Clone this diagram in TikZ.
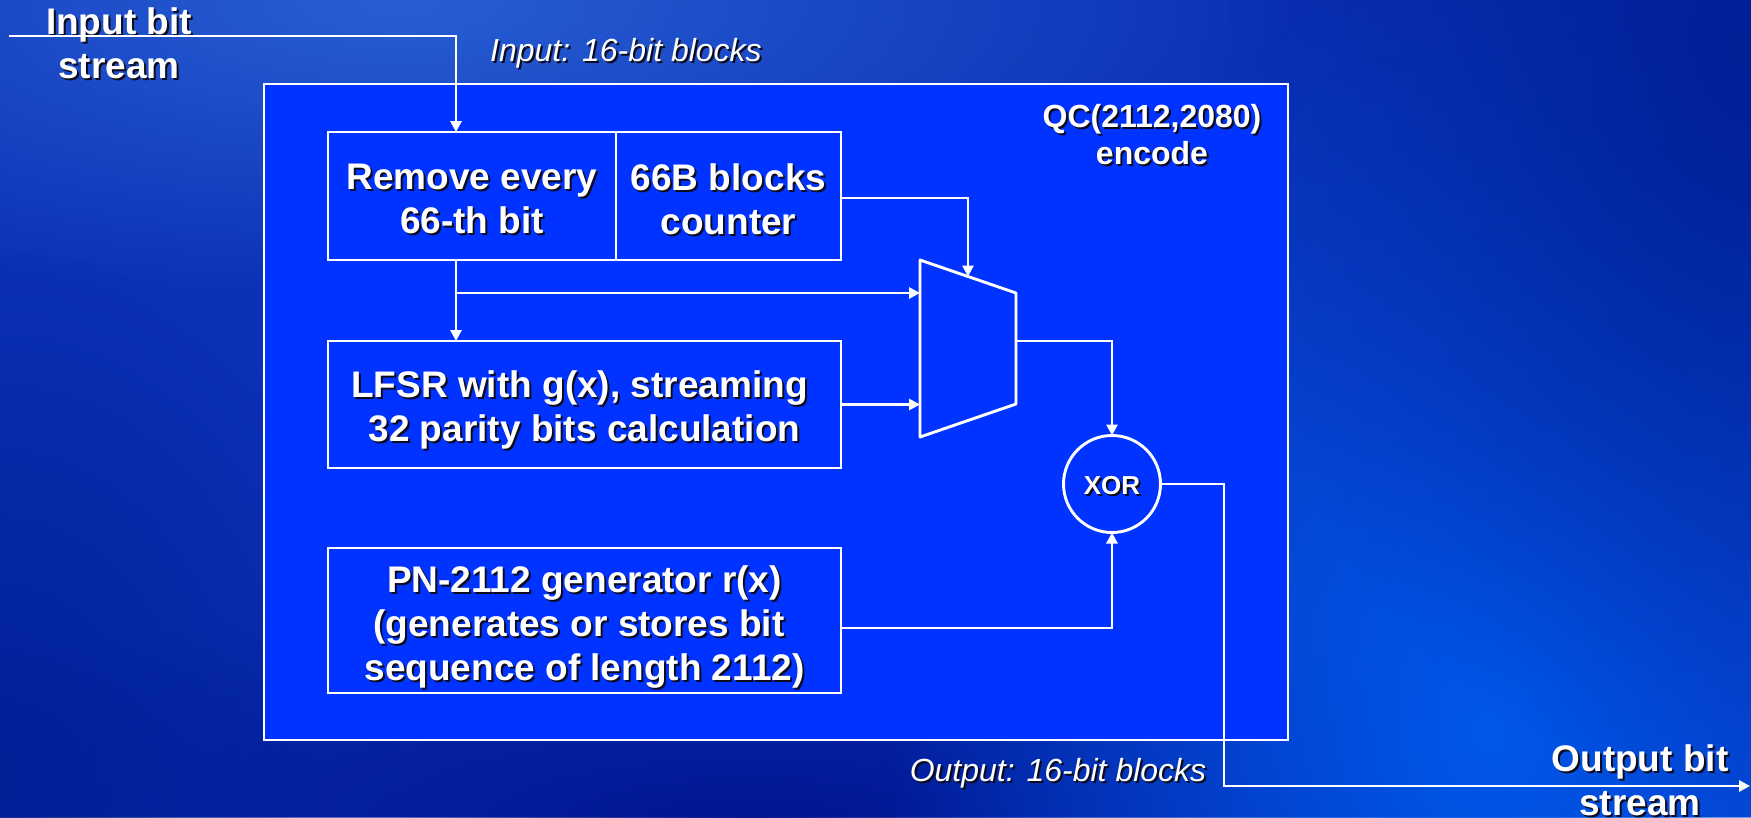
\documentclass[tikz,border=0pt]{standalone}
\usepackage{fontspec}
\setmainfont{Liberation Sans}
\usetikzlibrary{arrows.meta,fadings,calc}

\definecolor{bgbase}{RGB}{12,48,182}
\definecolor{bgmist}{RGB}{40,95,212}
\definecolor{bgdeep}{RGB}{0,22,145}
\definecolor{bgdusk}{RGB}{0,32,150}
\definecolor{bgglow}{RGB}{0,88,235}
\definecolor{panelblue}{RGB}{0,51,255}
\definecolor{shadowgray}{RGB}{12,12,30}

% white text with a small dark drop shadow
\newcommand\shtxt[1]{\leavevmode\rlap{\kern2pt\raisebox{-2pt}{\textcolor{shadowgray}{#1}}}#1}

\tikzfading[name=softspot, inner color=transparent!0, outer color=transparent!100]

\tikzset{
  wire/.style={draw=white, line width=2.9pt},
  flow/.style={wire, -{Triangle[length=11pt,width=11pt]}},
  blockbox/.style={draw=white, line width=2.9pt, fill=panelblue,
    inner sep=0pt, outer sep=0pt},
  blocktext/.style={text=white, align=center, inner sep=0pt,
    font=\fontsize{37}{44}\selectfont\bfseries},
  caption/.style={text=white, inner sep=0pt, align=center,
    font=\fontsize{37}{44}\selectfont\bfseries},
  note/.style={text=white, inner sep=0pt, anchor=base,
    font=\fontsize{32}{38}\selectfont\itshape},
}

\begin{document}
\begin{tikzpicture}[x=1pt,y=-1pt]
\useasboundingbox (0,0) rectangle (1751,817);

% backdrop
\fill[bgbase] (0,0) rectangle (1751,817);
\fill[bgmist, path fading=softspot] (-500,-300) rectangle (1300,300);
\fill[bgdeep, path fading=softspot] (-250,580) rectangle (1750,1060);
\fill[bgdusk, path fading=softspot] (-400,250) rectangle (400,1300);
\fill[bgglow, path fading=softspot] (880,-20) rectangle (2100,1480);
\fill[bgdusk, path fading=softspot] (1200,-700) rectangle (2300,800);

% encoder panel
\node (enc) [blockbox, minimum width=1024pt, minimum height=656pt] at (776,412) {};
\node (qc) [caption, font=\fontsize{32}{37}\selectfont\bfseries] at (1152,136)
  {\shtxt{QC(2112,2080)}\\\shtxt{encode}};

% processing blocks
\node (rem) [blockbox, minimum width=288pt, minimum height=128pt] at (472,196) {};
\node (cnt) [blockbox, minimum width=225pt, minimum height=128pt] at (728.5,196) {};
\node (lfsr) [blockbox, minimum width=513pt, minimum height=127pt] at (584.5,404.5) {};
\node (pn) [blockbox, minimum width=513pt, minimum height=145pt] at (584.5,620.5) {};

\node (remTxt) [blocktext] at ($(rem.center)+(0,4)$)
  {\shtxt{Remove every}\\\shtxt{66-th bit}};
\node (cntTxt) [blocktext] at ($(cnt.center)+(0,4)$)
  {\shtxt{66B blocks}\\\shtxt{counter}};
\node (lfsrTxt) [blocktext] at ($(lfsr.center)+(0,6)$)
  {\shtxt{LFSR with g(x), streaming}\kern10pt\\\shtxt{32 parity bits calculation}};
\node (pnTxt) [blocktext] at ($(pn.center)+(0,8)$)
  {\shtxt{PN-2112 generator r(x)}\\\shtxt{(generates or stores bit}\kern11pt\\\shtxt{sequence of length 2112)}};

% multiplexer
\coordinate (m1) at (920,260);
\coordinate (m2) at (1016,293);
\coordinate (m3) at (1016,404);
\coordinate (m4) at (920,437);
\draw[wire, fill=panelblue, line join=round] (m1) -- (m2) -- (m3) -- (m4) -- cycle;
\coordinate (muxSel) at ($(m1)!0.5!(m2)$);

% XOR gate
\node (xor) [circle, draw=white, line width=2.9pt, fill=panelblue, text=white,
  minimum size=97pt, inner sep=0pt, outer sep=0pt,
  font=\fontsize{26}{30}\selectfont\bfseries] at (1112,484) {};
\node (xorTxt) [text=white, inner sep=0pt, anchor=base,
  font=\fontsize{26}{30}\selectfont\bfseries] at (1112,494) {\shtxt{XOR}};

% outside labels
\node (inlbl) [caption] at (119,44) {\shtxt{Input bit}\\\shtxt{stream}};
\node (outlbl) [caption] at (1640,781) {\shtxt{Output bit}\\\shtxt{stream}};
\node (innote) [note] at (626,61) {\shtxt{Input: 16-bit blocks}};
\node (outnote) [note] at (1058,781) {\shtxt{Output: 16-bit blocks}};

% connection points
\coordinate (inStart) at (9,36);
\coordinate (remIn) at (456,132);
\coordinate (remOut) at (456,260);
\coordinate (lfsrIn) at (456,341);
\coordinate (tap) at (456,293);
\coordinate (muxA) at (920,293);
\coordinate (cntOut) at (841,198);
\coordinate (muxB) at (920,404.5);
\coordinate (muxOut) at (1016,341);
\coordinate (pnOut) at (841,628);
\coordinate (outTurn) at (1224,786);
\coordinate (outEnd) at (1750,786);

% signal flow
\draw[flow] (inStart) -| (remIn);
\draw[flow] (remOut) -- (lfsrIn);
\draw[flow] (tap) -- (muxA);
\draw[flow] (cntOut) -| (muxSel);
\draw[flow] (lfsr.east) -- (muxB);
\draw[flow] (muxOut) -| (xor.north);
\draw[flow] (pnOut) -| (xor.south);
\draw[flow] (xor.east) -| (outTurn) -- (outEnd);
\end{tikzpicture}
\end{document}
